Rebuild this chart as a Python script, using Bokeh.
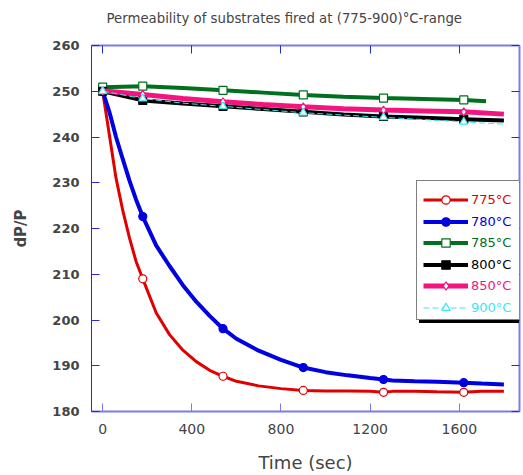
from bokeh.plotting import figure
from bokeh.models import Range1d, LinearAxis, Legend, LegendItem, FixedTicker
from bokeh.embed import file_html
from bokeh.resources import INLINE

# ---------------- data ----------------
t_fast = [0, 30, 60, 90, 120, 150, 180, 240, 300, 360, 420, 480, 540, 600, 700,
          800, 900, 1000, 1100, 1200, 1260, 1300, 1400, 1500, 1620, 1700, 1800]
y_775 = [250.0, 240.5, 231.0, 224.0, 218.0, 212.8, 209.0, 201.6, 196.8, 193.4, 190.9,
         189.0, 187.7, 186.6, 185.6, 185.0, 184.6, 184.5, 184.5, 184.4, 184.2, 184.4,
         184.4, 184.3, 184.2, 184.4, 184.4]
y_780 = [250.0, 245.5, 240.0, 235.2, 230.5, 226.3, 222.6, 216.3, 211.8, 207.6, 204.0,
         200.9, 198.1, 195.9, 193.3, 191.3, 189.6, 188.6, 187.9, 187.3, 187.0, 186.8,
         186.6, 186.5, 186.3, 186.1, 185.9]

t_slow = [0, 180, 360, 540, 720, 900, 1080, 1260, 1440, 1620, 1800]
t_785 = [0, 180, 360, 540, 720, 900, 1080, 1260, 1440, 1620, 1720]
y_785 = [250.9, 251.1, 250.7, 250.2, 249.7, 249.2, 248.8, 248.5, 248.3, 248.1, 247.8]
y_800 = [250.0, 248.0, 247.3, 246.7, 246.1, 245.5, 244.9, 244.5, 244.2, 243.9, 243.6]
y_850 = [250.1, 249.3, 248.4, 247.7, 247.1, 246.6, 246.2, 245.9, 245.7, 245.5, 245.0]
y_900 = [250.0, 248.4, 247.4, 246.7, 246.0, 245.3, 244.8, 244.3, 243.8, 243.3, 242.8]

marker_times = [0, 180, 540, 900, 1260, 1620]

labels = ["775°C", "780°C", "785°C", "800°C", "850°C", "900°C"]
x_ticks = [0, 400, 800, 1200, 1600]
y_ticks = [180, 190, 200, 210, 220, 230, 240, 250, 260]

title_text = "Permeability of substrates fired at (775-900)°C-range"
x_label = "Time (sec)"
y_label = "dP/P"

# ---------------- styles ----------------
series = [
    (t_fast, y_775, "#e00000", 3, "circle", False, None),
    (t_fast, y_780, "#0000e0", 4, "circle", True, None),
    (t_785, y_785, "#00701e", 4, "square", False, None),
    (t_slow, y_800, "#000000", 4, "square", True, None),
    (t_slow, y_850, "#f5147f", 5, "diamond", False, None),
    (t_slow, y_900, "#3ce6f5", 1, "triangle", False, "6 3"),
]

p = figure(width=523, height=475, x_range=Range1d(-50, 1870), y_range=Range1d(180, 260),
           output_backend="svg", toolbar_location=None,
           min_border_left=91, min_border_right=4, min_border_top=45, min_border_bottom=62)
p.outline_line_color = None
p.grid.visible = False
p.background_fill_color = "white"

p.title.text = title_text
p.title.text_font = "DejaVu Sans"
p.title.text_font_size = "13.3px"
p.title.text_font_style = "normal"
p.title.align = "left"
p.title.offset = 15
p.title.standoff = 0
p.title.vertical_align = "bottom"

axis_light = "#7b7bf0"
axis_dark = "#2a2ad0"

xa = p.xaxis[0]
xa.ticker = FixedTicker(ticks=x_ticks)
xa.axis_label = x_label
xa.axis_label_text_font = "DejaVu Sans"
xa.axis_label_text_font_size = "18px"
xa.axis_label_text_font_style = "normal"
xa.axis_label_standoff = 15
xa.major_label_text_font = "DejaVu Sans"
xa.major_label_text_font_size = "14px"
xa.major_label_standoff = 12
xa.axis_line_color = axis_light
xa.axis_line_width = 2
xa.major_tick_line_color = axis_light
xa.major_tick_in = 8
xa.major_tick_out = 0
xa.minor_tick_line_color = None

ya = p.yaxis[0]
ya.ticker = FixedTicker(ticks=y_ticks)
ya.axis_label = y_label
ya.axis_label_text_font = "DejaVu Sans"
ya.axis_label_text_font_size = "15px"
ya.axis_label_text_font_style = "bold"
ya.axis_label_standoff = 19
ya.major_label_text_font = "DejaVu Sans"
ya.major_label_text_font_size = "13px"
ya.major_label_text_font_style = "bold"
ya.major_label_standoff = 12
ya.axis_line_color = axis_dark
ya.axis_line_width = 1
ya.major_tick_line_color = axis_dark
ya.major_tick_in = 8
ya.major_tick_out = 0
ya.minor_tick_line_color = None

# top axis: ticks only; an invisible blank axis label reserves the gap under the title
top = LinearAxis(ticker=FixedTicker(ticks=x_ticks), major_label_text_font_size="0px",
                 major_label_text_color=None,
                 major_label_standoff=0, major_tick_in=8, major_tick_out=0,
                 minor_tick_line_color=None, axis_line_color=axis_light, axis_line_width=2,
                 major_tick_line_color=axis_dark,
                 axis_label=" ", axis_label_text_font_size="10px",
                 axis_label_text_color=None, axis_label_standoff=6)
right = LinearAxis(ticker=FixedTicker(ticks=y_ticks), major_label_text_font_size="0px",
                   major_label_text_color=None,
                   major_label_standoff=0, major_tick_in=8, major_tick_out=0,
                   minor_tick_line_color=None, axis_line_color=axis_light, axis_line_width=2,
                   major_tick_line_color=axis_dark)
p.add_layout(top, "above")
p.add_layout(right, "right")

items = []
for (tt, yy, col, lw, mk, filled, dash) in series:
    kw = {}
    if dash:
        kw["line_dash"] = dash
    r_line = p.line(tt, yy, line_color=col, line_width=lw, **kw)
    mx = [t for t in tt if t in marker_times]
    my = [y for t, y in zip(tt, yy) if t in marker_times]
    r_mk = p.scatter(mx, my, marker=mk, size=8, line_color=col, line_width=1.2,
                     fill_color=col if filled else "white")
    items.append((r_line, r_mk, col))

# ---------------- legend (location = bottom-left corner, px from frame bottom-left) ----
BOX_X, BOX_BOT = 325, 91
ITEM_X, ITEM_TOP_LOC, ROW = 332, 201, 21.5
common = dict(spacing=0, glyph_height=21, glyph_width=45, label_standoff=3, margin=0,
              label_text_font="DejaVu Sans", label_text_font_size="13px", label_height=21)

dummy = p.line([], [], line_alpha=0)

def dummy_items():
    return [LegendItem(label=" ", renderers=[dummy]) for _ in labels]

shadow = Legend(items=dummy_items(), location=(BOX_X + 3, BOX_BOT - 3), padding=6,
                label_width=43, background_fill_color="black", background_fill_alpha=1,
                border_line_color="black", label_text_color=None, **common)
box = Legend(items=dummy_items(), location=(BOX_X, BOX_BOT), padding=6, label_width=43,
             background_fill_color="white", background_fill_alpha=1,
             border_line_color="black", border_line_width=1, label_text_color=None, **common)
p.add_layout(shadow)
p.add_layout(box)
for i, (lab, (rl, rm, col)) in enumerate(zip(labels, items)):
    lg = Legend(items=[LegendItem(label=lab, renderers=[rl, rm])],
                location=(ITEM_X, ITEM_TOP_LOC - ROW * i), padding=0,
                background_fill_alpha=0, border_line_color=None, label_text_color=col, **common)
    p.add_layout(lg)

open("out.html", "w").write(file_html(p, INLINE))
